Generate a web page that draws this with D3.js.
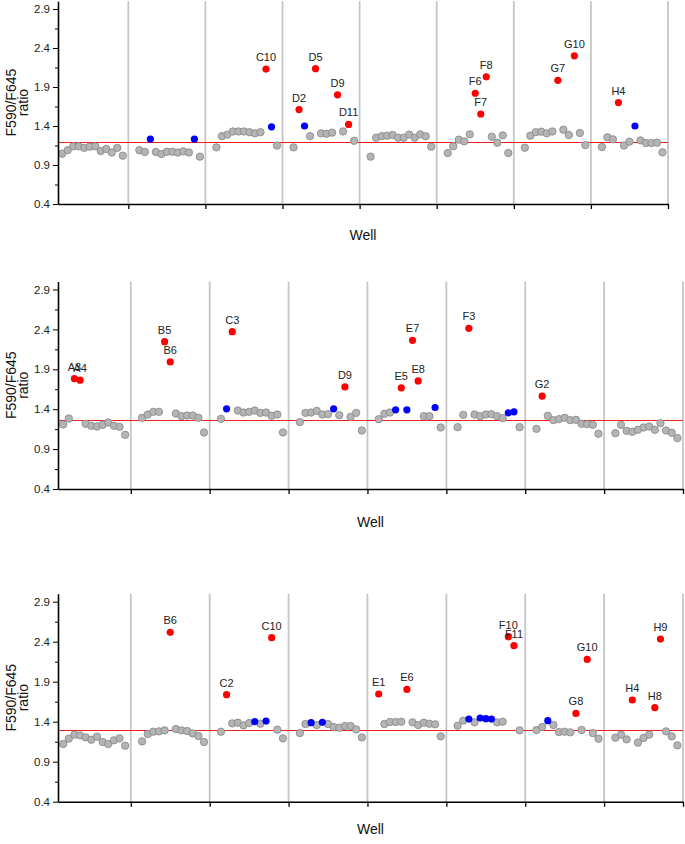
<!DOCTYPE html>
<html><head><meta charset="utf-8">
<script src="https://cdn.jsdelivr.net/npm/d3@7"></script>
<style>
body{margin:0;background:#fff;}
svg{display:block;font-family:"Liberation Sans",Arial,sans-serif;}
</style>
</head><body>
<svg id="chart" width="685" height="844"></svg>
<script>
// ---------- data ----------
const rows = ["A","B","C","D","E","F","G","H"];
const yTicks = [0.4, 0.9, 1.4, 1.9, 2.4, 2.9];
const yMinorTicks = [0.65, 1.15, 1.65, 2.15, 2.65];
const thresholds = [1.20, 1.27, 1.30];
const axisTitle = "Well";
const yTitle = ["F590/F645", "ratio"];

const plate1 = [
  [1.045,1.09,1.14,1.14,1.12,1.135,1.14,1.08,1.105,1.06,1.12,1.02],
  [1.09,1.067,1.233,1.067,1.04,1.07,1.07,1.06,1.075,1.06,1.233,1.007],
  [1.126,1.27,1.29,1.33,1.33,1.33,1.32,1.306,1.32,2.13,1.39,1.15],
  [1.126,1.61,1.40,1.27,2.135,1.306,1.30,1.315,1.80,1.33,1.42,1.21],
  [1.007,1.25,1.27,1.276,1.285,1.25,1.25,1.29,1.25,1.293,1.268,1.135],
  [1.054,1.14,1.225,1.203,1.293,1.82,1.554,2.03,1.263,1.186,1.28,1.054],
  [1.122,1.276,1.32,1.327,1.306,1.33,1.985,1.353,1.285,2.30,1.31,1.156],
  [1.131,1.255,1.229,1.70,1.15,1.199,1.40,1.216,1.182,1.182,1.186,1.062]
];
const plate2 = [
  [1.208,1.283,1.783,1.763,1.217,1.192,1.183,1.204,1.233,1.192,1.179,1.079],
  [1.292,1.333,1.367,1.367,2.246,1.992,1.346,1.313,1.321,1.321,1.292,1.108],
  [1.279,1.404,2.371,1.383,1.358,1.367,1.383,1.354,1.358,1.317,1.333,1.108],
  [1.238,1.354,1.358,1.379,1.333,1.338,1.404,1.325,1.679,1.304,1.354,1.133],
  [1.275,1.342,1.358,1.392,1.667,1.392,2.263,1.754,1.313,1.313,1.421,1.171],
  [1.175,1.329,2.413,1.333,1.313,1.333,1.338,1.313,1.288,1.354,1.367,1.175],
  [1.154,1.563,1.317,1.263,1.275,1.292,1.263,1.267,1.217,1.213,1.204,1.092],
  [1.10,1.204,1.129,1.117,1.142,1.171,1.183,1.142,1.225,1.133,1.104,1.038]
];
const plate3 = [
  [1.121,1.188,1.238,1.229,1.204,1.175,1.213,1.146,1.121,1.167,1.192,1.10],
  [1.154,1.246,1.275,1.279,1.292,2.517,1.308,1.292,1.283,1.254,1.221,1.146],
  [1.275,1.738,1.379,1.388,1.354,1.383,1.40,1.375,1.408,2.45,1.30,1.192],
  [1.258,1.371,1.388,1.358,1.392,1.371,1.333,1.325,1.346,1.346,1.304,1.204],
  [1.746,1.371,1.396,1.396,1.40,1.804,1.392,1.358,1.388,1.375,1.367,1.217],
  [1.35,1.413,1.433,1.392,1.446,1.438,1.433,1.392,1.40,2.463,2.35,1.292],
  [1.296,1.333,1.413,1.358,1.271,1.275,1.267,1.504,1.296,2.179,1.258,1.188],
  [1.20,1.238,1.179,1.671,1.138,1.196,1.238,1.575,2.433,1.279,1.217,1.104]
];
const hits1 = ["C10","D2","D5","D9","D11","F6","F7","F8","G7","G10","H4"];
const hits2 = ["A3","A4","B5","B6","C3","D9","E5","E7","E8","F3","G2"];
const hits3 = ["B6","C2","C10","E1","E6","F10","F11","G8","G10","H4","H8","H9"];
const blue1 = ["B3","B11","C11","D3","H7"];
const blue2 = ["C2","D7","E4","E6","E11","F10","F11"];
const blue3 = ["C7","C9","D3","D5","F3","F5","F6","F7","G3"];

// ---------- layout ----------
const panels = [
  {data: plate1, hits: hits1, blue: blue1, thr: thresholds[0],
   left: 58, right: 668, top: 1.2, bottom: 204, xMin: 1.23, titleY: 240},
  {data: plate2, hits: hits2, blue: blue2, thr: thresholds[1],
   left: 58, right: 683, top: 281.5, bottom: 489, xMin: 1.08, titleY: 527},
  {data: plate3, hits: hits3, blue: blue3, thr: thresholds[2],
   left: 58, right: 683, top: 593.7, bottom: 801.7, xMin: 1.08, titleY: 834}
];

const svg = d3.select("#chart");
const groupSpan = 14;
const dividers = d3.range(1, rows.length + 1).map(i => i * groupSpan);

panels.forEach(p => {
  const x = d3.scaleLinear().domain([p.xMin, rows.length * groupSpan]).range([p.left, p.right]);
  const y = d3.scaleLinear().domain([0.4, 3.0]).range([p.bottom, p.top]);
  const g = svg.append("g");

  // group divider lines
  g.selectAll("line.div").data(dividers).join("line")
    .attr("x1", d => x(d)).attr("x2", d => x(d))
    .attr("y1", y(3.0)).attr("y2", y(0.4))
    .attr("stroke", "#c6c6c6").attr("stroke-width", 1.8);

  // threshold line (pixel-aligned so it stays bright red)
  const ty = Math.round(y(p.thr)) + 0.5;
  g.append("line")
    .attr("x1", x(p.xMin)).attr("x2", x(rows.length * groupSpan))
    .attr("y1", ty).attr("y2", ty)
    .attr("stroke", "#f21d1d").attr("stroke-width", 1)
    .attr("shape-rendering", "crispEdges");

  // points
  const pts = [];
  p.data.forEach((vals, r) => vals.forEach((v, w) => {
    const id = rows[r] + (w + 1);
    const kind = p.hits.includes(id) ? "hit" : (p.blue.includes(id) ? "blue" : "base");
    pts.push({id, r, w: w + 1, v, kind});
  }));
  const xPos = d => x(d.r * groupSpan + d.w + 1);

  g.selectAll("circle.base").data(pts.filter(d => d.kind === "base")).join("circle")
    .attr("cx", xPos).attr("cy", d => y(d.v)).attr("r", 3.7)
    .attr("fill", "#b4b4b4").attr("stroke", "#858585").attr("stroke-width", 0.8);
  g.selectAll("circle.col").data(pts.filter(d => d.kind !== "base")).join("circle")
    .attr("cx", xPos).attr("cy", d => y(d.v)).attr("r", 3.6)
    .attr("fill", d => d.kind === "hit" ? "#ff0000" : "#0000ff");

  // hit labels
  g.selectAll("text.lab").data(pts.filter(d => d.kind === "hit")).join("text")
    .attr("x", xPos).attr("y", d => y(d.v) - 8)
    .attr("text-anchor", "middle").attr("font-size", 11).attr("fill", "#222")
    .text(d => d.id);

  // y axis
  const ya = g.append("g").attr("transform", `translate(${p.left},0)`)
    .call(d3.axisLeft(y).tickValues(yTicks).tickSize(5).tickSizeOuter(0).tickFormat(d3.format(".1f")));
  ya.append("g").call(d3.axisLeft(y).tickValues(yMinorTicks).tickSize(3).tickSizeOuter(0).tickFormat(""))
    .select(".domain").remove();
  ya.selectAll("text").attr("font-size", 11.5).attr("fill", "#222")
    .attr("font-family", "'Liberation Sans',Arial,sans-serif").attr("x", -8);
  ya.selectAll("path,line").attr("stroke", "#000");
  ya.select(".domain").attr("stroke-width", 1.6);

  // x axis
  const xa = g.append("g").attr("transform", `translate(0,${p.bottom})`)
    .call(d3.axisBottom(x).tickValues(dividers).tickSize(5).tickSizeOuter(0).tickFormat(""));
  xa.selectAll("path,line").attr("stroke", "#000");
  xa.select(".domain").attr("stroke-width", 1.6);
  xa.selectAll("line").attr("stroke-width", 1.3);

  // titles
  g.append("text").attr("x", (p.left + p.right) / 2).attr("y", p.titleY)
    .attr("text-anchor", "middle").attr("font-size", 14).attr("fill", "#111").text(axisTitle);
  const cy = (p.top + p.bottom) / 2;
  yTitle.forEach((t, i) => {
    g.append("text")
      .attr("transform", `translate(${i === 0 ? 16 : 28},${cy}) rotate(-90)`)
      .attr("text-anchor", "middle").attr("font-size", 14).attr("fill", "#111").text(t);
  });
});
</script>
</body></html>
